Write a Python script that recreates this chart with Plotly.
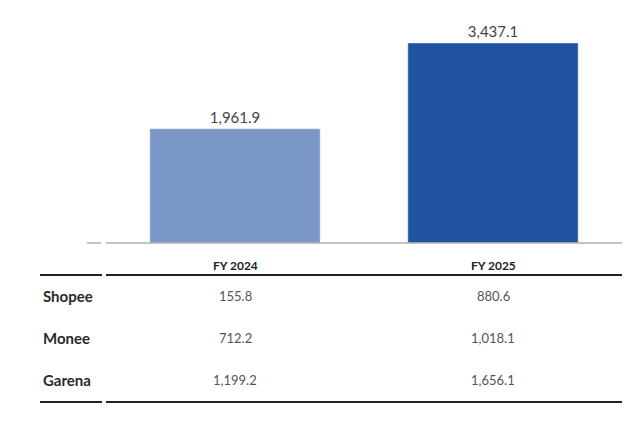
import plotly.graph_objects as go

categories = ["FY 2024", "FY 2025"]
totals = [1961.9, 3437.1]
bar_colors = ["#7B98C7", "#2152A0"]
segments = ["Shopee", "Monee", "Garena"]
shopee = [155.8, 880.6]
monee = [712.2, 1018.1]
garena = [1199.2, 1656.1]
table_rows = [shopee, monee, garena]

W, H = 640, 422
OFF = 8  # page body margin
def py(pix):
    return (H - (pix - OFF)) / H
def px(pix):
    return (pix - OFF) / W

FONT = "Lato"
fig = go.Figure()
fig.add_trace(go.Bar(
    x=categories, y=totals, marker_color=bar_colors, width=0.66,
    text=[f"{v:,.1f}" for v in totals], textposition="outside",
    textfont=dict(family=FONT, size=15, color="#444"), cliponaxis=False,
))

fig.update_layout(
    width=W, height=H, margin=dict(l=0, r=0, t=0, b=0),
    paper_bgcolor="white", plot_bgcolor="white", showlegend=False,
    xaxis=dict(domain=[px(106), px(622)], range=[-0.5, 1.5], visible=False),
    yaxis=dict(domain=[py(243), py(20)], range=[0, 3832], visible=False),
)

shapes = []
shapes.append(dict(type="line", xref="paper", yref="paper", x0=px(87), x1=px(101), y0=py(243), y1=py(243), line=dict(color="#B0B0B0", width=1.5)))
shapes.append(dict(type="line", xref="paper", yref="paper", x0=px(106), x1=px(622), y0=py(243), y1=py(243), line=dict(color="#B0B0B0", width=1.5)))
for yy in (275, 402):
    shapes.append(dict(type="line", xref="paper", yref="paper", x0=px(40), x1=px(102), y0=py(yy), y1=py(yy), line=dict(color="#222", width=2)))
    shapes.append(dict(type="line", xref="paper", yref="paper", x0=px(106), x1=px(622), y0=py(yy), y1=py(yy), line=dict(color="#222", width=2)))
fig.update_layout(shapes=shapes)

ann = []
for c in categories:
    ann.append(dict(x=c, xref="x", y=py(265), yref="paper", text=f"<b>{c}</b>", showarrow=False,
                    font=dict(family=FONT, size=12, color="#222"), yanchor="middle"))
row_y = [296, 338, 380]
for name, vals, yy in zip(segments, table_rows, row_y):
    ann.append(dict(x=px(41), xref="paper", y=py(yy), yref="paper", text=f"<b>{name}</b>", showarrow=False,
                    xanchor="left", yanchor="middle", font=dict(family=FONT, size=15, color="#2a2a2a")))
    for c, v in zip(categories, vals):
        ann.append(dict(x=c, xref="x", y=py(yy), yref="paper", text=f"{v:,.1f}", showarrow=False,
                        yanchor="middle", font=dict(family=FONT, size=13, color="#555")))
fig.update_layout(annotations=ann)

fig.write_html("out.html")
